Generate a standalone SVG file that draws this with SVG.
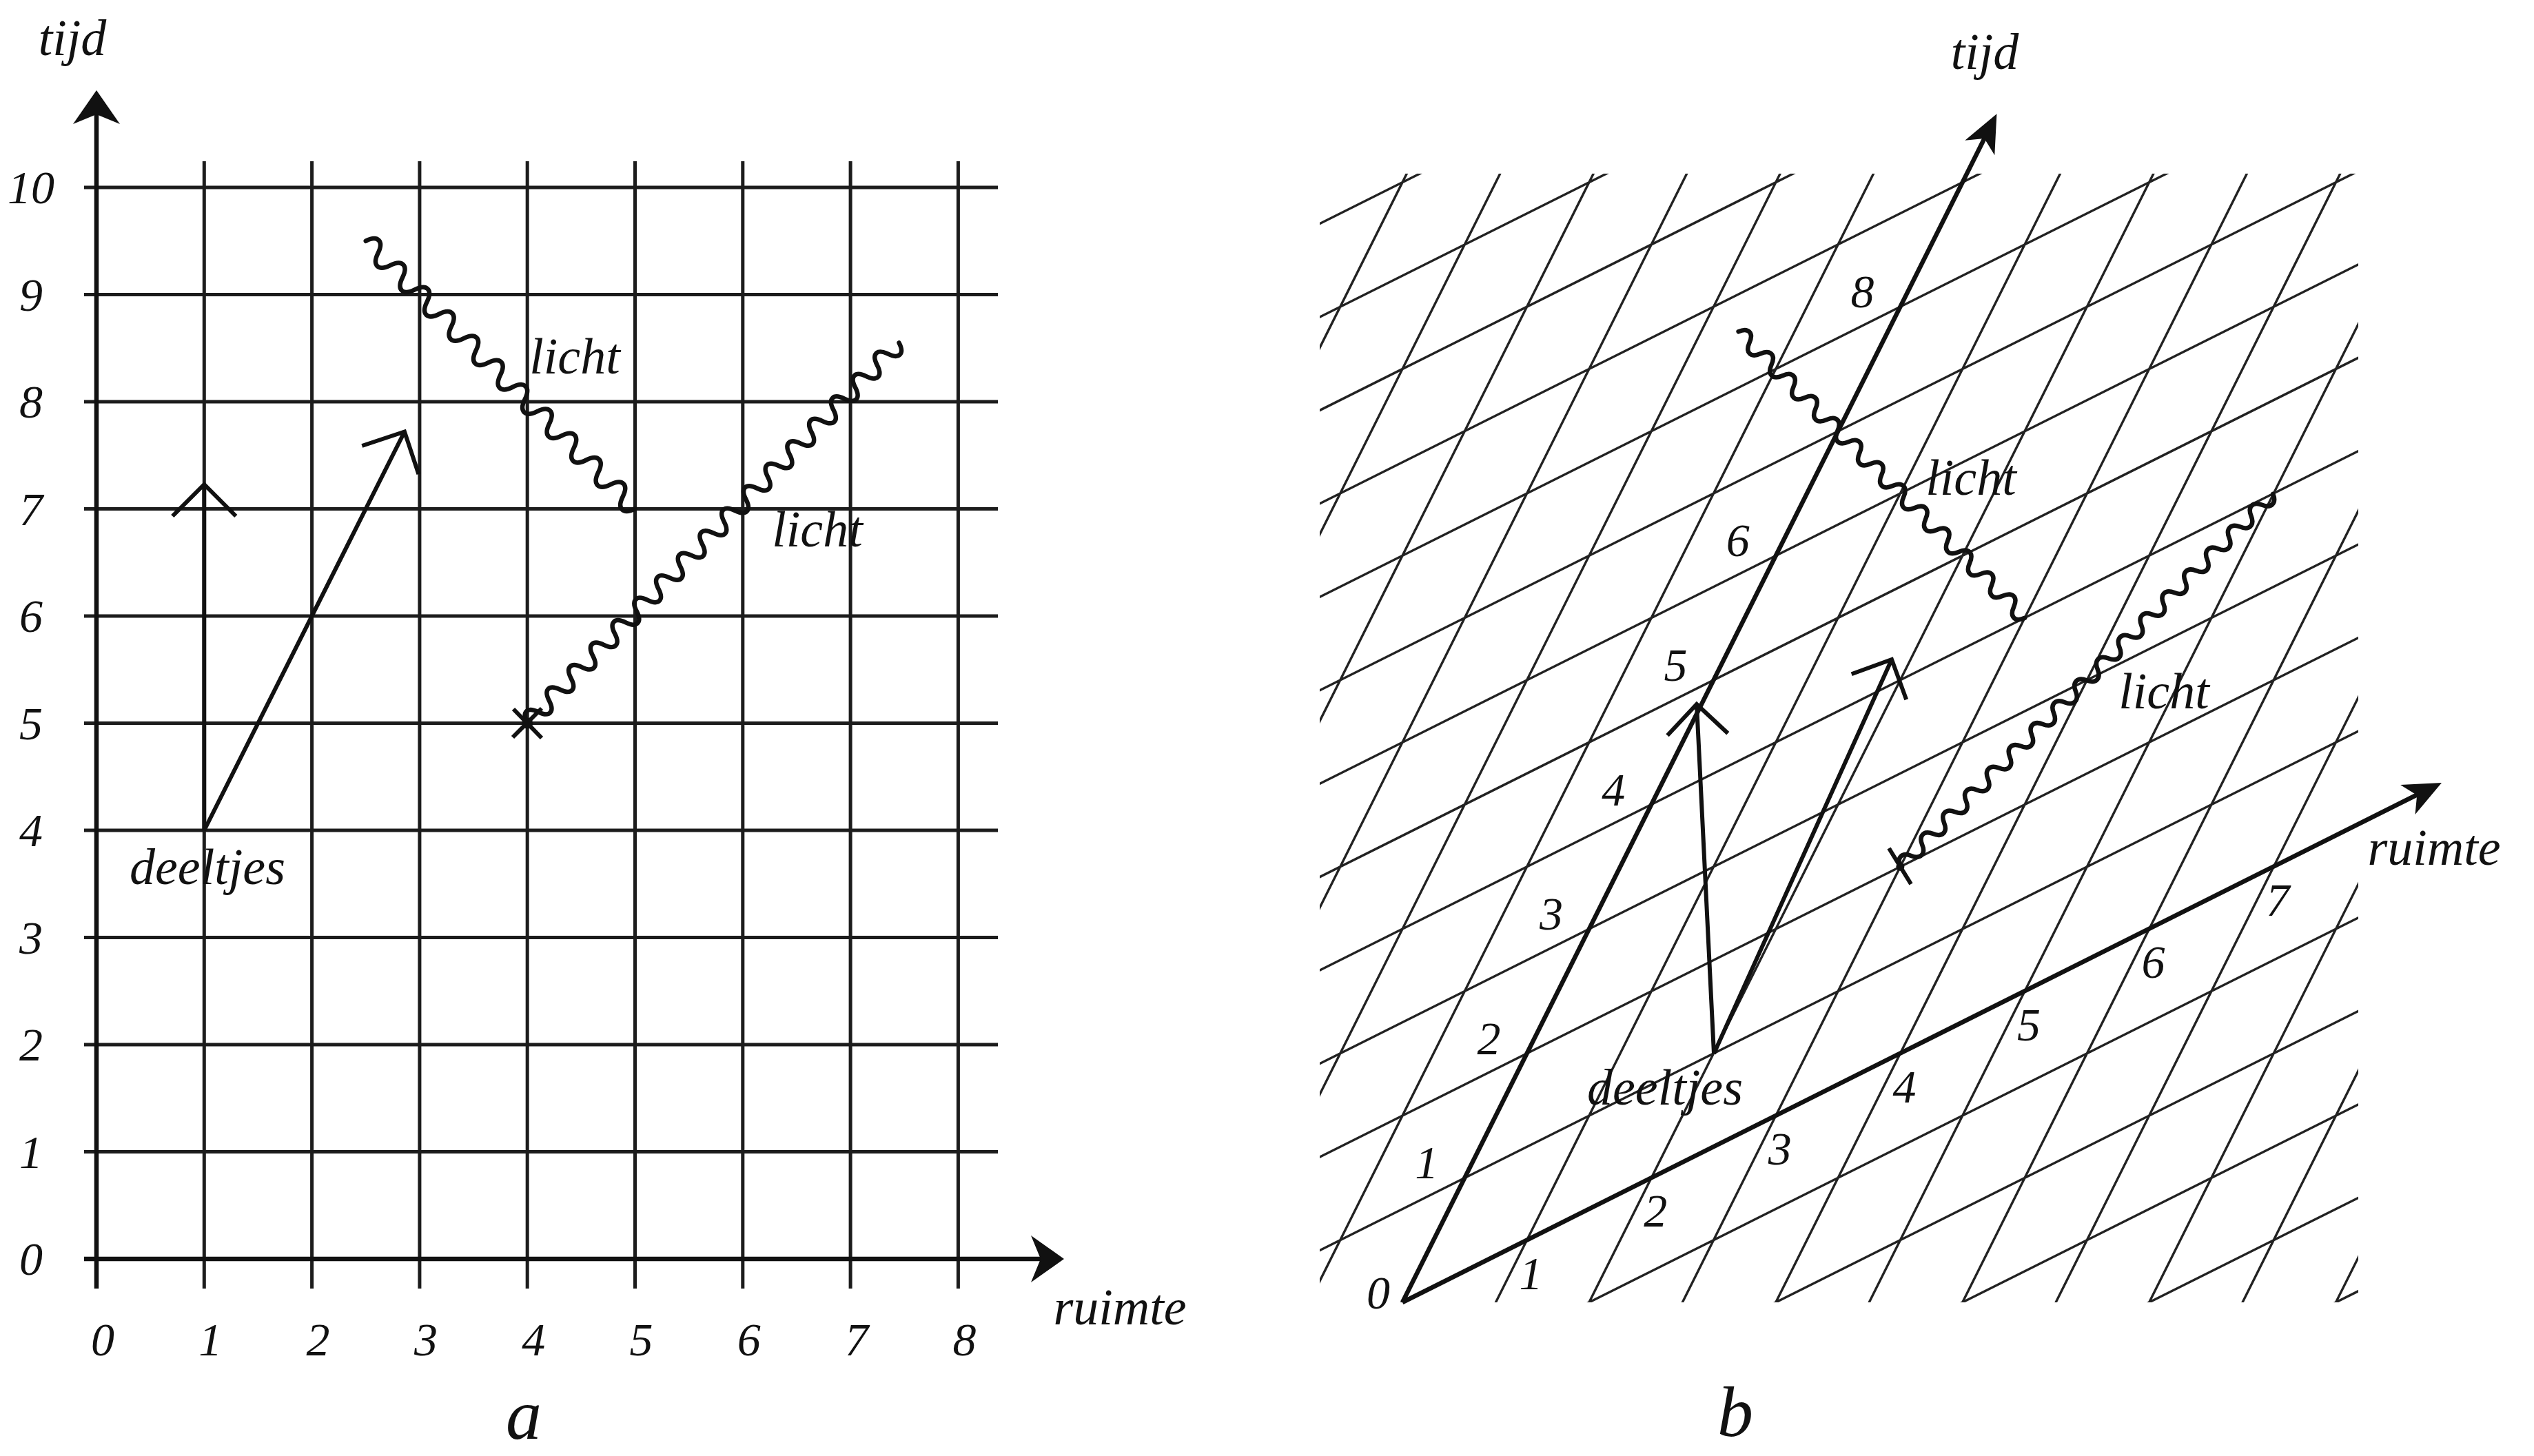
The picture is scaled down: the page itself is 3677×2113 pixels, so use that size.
<svg xmlns="http://www.w3.org/2000/svg" width="3677" height="2113" viewBox="0 0 3677 2113">
<defs>
<style>
.lbl{font-family:"Liberation Serif","DejaVu Serif",serif;font-style:italic;fill:#111}
.num{font-size:68px;text-anchor:middle}
.word{font-size:74px;text-anchor:middle}
.big{font-size:104px;text-anchor:middle}
.grid{fill:none;stroke:#1c1c1c;stroke-width:5}
.axis{fill:none;stroke:#111;stroke-width:6.5}
.wl{fill:none;stroke:#111;stroke-width:6;stroke-linejoin:miter}
.wave{fill:none;stroke:#111;stroke-width:6.5;stroke-linecap:round}
.head{fill:#111}
.bgrid{fill:none;stroke:#222;stroke-width:3.4}
</style>
<clipPath id="bclip"><rect x="1915" y="252" width="1507" height="1638"/></clipPath>
</defs>
<rect width="3677" height="2113" fill="#fff"/>

<g id="diagram-a">
  <g id="a-grid">
    <path class="grid" d="M296.3 234V1870M452.6 234V1870M608.9 234V1870M765.2 234V1870M921.5 234V1870M1077.8 234V1870M1234.1 234V1870M1390.4 234V1870
    M122 1671.5H1448M122 1516H1448M122 1360.5H1448M122 1205H1448M122 1049.5H1448M122 894H1448M122 738.5H1448M122 583H1448M122 427.5H1448M122 272H1448"/>
  </g>
  <g id="a-axes">
    <path class="axis" d="M140 1870V166M122 1827H1512"/>
    <path class="head" d="M140 131L174 180L140 166L106 180Z"/>
    <path class="head" d="M1544 1827L1496 1861L1510 1827L1496 1793Z"/>
  </g>
  <g id="a-labels" class="lbl">
    <text class="word" x="105" y="80">tijd</text>
    <text class="word" x="1625" y="1922">ruimte</text>
    <g class="num">
      <text x="45" y="295">10</text><text x="45" y="450.5">9</text><text x="45" y="606">8</text><text x="45" y="761.5">7</text><text x="45" y="917">6</text><text x="45" y="1072.5">5</text><text x="45" y="1228">4</text><text x="45" y="1383.5">3</text><text x="45" y="1539">2</text><text x="45" y="1694.5">1</text><text x="45" y="1850">0</text>
      <text x="149" y="1967">0</text><text x="305.3" y="1967">1</text><text x="461.6" y="1967">2</text><text x="617.9" y="1967">3</text><text x="774.2" y="1967">4</text><text x="930.5" y="1967">5</text><text x="1086.8" y="1967">6</text><text x="1243.1" y="1967">7</text><text x="1399.4" y="1967">8</text>
    </g>
    <text class="word" x="301" y="1283">deeltjes</text>
    <text class="word" x="834" y="542">licht</text>
    <text class="word" x="1186" y="793">licht</text>
    <text class="big" x="760" y="2088">a</text>
  </g>
  <g id="a-particles">
    <path class="wl" d="M296.3 1205V703M250.3 749L296.3 703L342.3 749"/>
    <path class="wl" d="M296.3 1205L587 626.5M525.3 647L587 626.5L607.4 688"/>
  </g>
  <g id="a-light">
    <path class="wave" transform="translate(530.75 349.75) rotate(44.85)" d="M0 0c6.26 -18.7 18.79 -18.7 25.05 0s18.79 18.7 25.05 0s18.79 -18.7 25.05 0s18.79 18.7 25.05 0s18.79 -18.7 25.05 0s18.79 18.7 25.05 0s18.79 -18.7 25.05 0s18.79 18.7 25.05 0s18.79 -18.7 25.05 0s18.79 18.7 25.05 0s18.79 -18.7 25.05 0s18.79 18.7 25.05 0s18.79 -18.7 25.05 0s18.79 18.7 25.05 0s18.79 -18.7 25.05 0s18.79 18.7 25.05 0s18.79 -18.7 25.05 0s18.79 18.7 25.05 0s18.79 -18.7 25.05 0s18.79 18.7 25.05 0s18.79 -18.7 25.05 0s18.79 18.7 25.05 0"/>
    <path class="wave" transform="translate(765.2 1049.5) rotate(-45.67)" d="M0 0c5.68 -17.3 17.02 -17.3 22.7 0s17.02 17.3 22.7 0s17.02 -17.3 22.7 0s17.02 17.3 22.7 0s17.02 -17.3 22.7 0s17.02 17.3 22.7 0s17.02 -17.3 22.7 0s17.02 17.3 22.7 0s17.02 -17.3 22.7 0s17.02 17.3 22.7 0s17.02 -17.3 22.7 0s17.02 17.3 22.7 0s17.02 -17.3 22.7 0s17.02 17.3 22.7 0s17.02 -17.3 22.7 0s17.02 17.3 22.7 0s17.02 -17.3 22.7 0s17.02 17.3 22.7 0s17.02 -17.3 22.7 0s17.02 17.3 22.7 0s17.02 -17.3 22.7 0s17.02 17.3 22.7 0s17.02 -17.3 22.7 0s17.02 17.3 22.7 0s17.02 -17.3 22.7 0s17.02 17.3 22.7 0s17.02 -17.3 22.7 0s17.02 17.3 22.7 0s17.02 -17.3 22.7 0s17.02 17.3 22.7 0s17.02 -17.3 22.7 0s17.02 17.3 22.7 0s17.02 -17.3 22.7 0s17.02 17.3 22.7 0"/>
    <path class="wl" d="M745 1029L786 1071M744 1070L786 1028"/>
    <circle class="head" cx="765.2" cy="1049.5" r="8"/>
  </g>
</g>

<g id="diagram-b">
  <g id="b-grid" clip-path="url(#bclip)">
    <path class="bgrid" vector-effect="non-scaling-stroke" transform="matrix(180.6 -90.3 90.3 -180.6 2035 1890)" d="M-7 -6V13M-6 -6V13M-5 -6V13M-4 -6V13M-3 -6V13M-2 -6V13M-1 -6V13M0 -6V13M1 -6V13M2 -6V13M3 -6V13M4 -6V13M5 -6V13M6 -6V13M7 -6V13M8 -6V13M9 -6V13M10 -6V13M11 -6V13
    M-8 -6H11M-8 -5H11M-8 -4H11M-8 -3H11M-8 -2H11M-8 -1H11M-8 0H11M-8 1H11M-8 2H11M-8 3H11M-8 4H11M-8 5H11M-8 6H11M-8 7H11M-8 8H11M-8 9H11M-8 10H11M-8 11H11M-8 12H11M-8 13H11"/>
  </g>
  <g id="b-axes">
    <path class="axis" d="M2035 1890L2880 200M2035 1890L3510 1152"/>
    <path class="head" d="M2897.4 165.3L2894.3 225.2L2879.5 201.1L2851.3 203.8Z"/>
    <path class="head" d="M3543 1136L3504.5 1182.1L3507.2 1153.9L3483.1 1139.1Z"/>
  </g>
  <g id="b-labels" class="lbl">
    <text class="word" x="2880" y="100">tijd</text>
    <text class="word" x="3532" y="1255">ruimte</text>
    <g class="num">
      <text x="2000" y="1899">0</text>
      <text x="2070.3" y="1710.4">1</text><text x="2160.6" y="1529.8">2</text><text x="2250.9" y="1349.2">3</text><text x="2341.2" y="1168.6">4</text><text x="2431.5" y="988">5</text><text x="2521.8" y="807.4">6</text><text x="2702.4" y="446.2">8</text>
      <text x="2221.6" y="1870.7">1</text><text x="2402.2" y="1780.4">2</text><text x="2582.8" y="1690.1">3</text><text x="2763.4" y="1599.8">4</text><text x="2944" y="1509.5">5</text><text x="3124.6" y="1419.2">6</text><text x="3305.2" y="1328.9">7</text>
    </g>
    <text class="word" x="2416" y="1603">deeltjes</text>
    <text class="word" x="2860" y="718">licht</text>
    <text class="word" x="3140" y="1028">licht</text>
    <text class="big" x="2518" y="2084">b</text>
  </g>
  <g id="b-particles">
    <path class="wl" stroke-width="5" d="M2487 1529L2462 1022M2419.5 1067.3L2462 1022L2507.3 1064.3"/>
    <path class="wl" stroke-width="5" d="M2487 1529L2745 957M2686.7 978.2L2745 957L2766.2 1015.3"/>
  </g>
  <g id="b-light">
    <path class="wave" stroke-width="5.5" transform="translate(2522.6 481.3) rotate(45)" d="M0 0c5.65 -14.7 16.95 -14.7 22.6 0s16.95 14.7 22.6 0s16.95 -14.7 22.6 0s16.95 14.7 22.6 0s16.95 -14.7 22.6 0s16.95 14.7 22.6 0s16.95 -14.7 22.6 0s16.95 14.7 22.6 0s16.95 -14.7 22.6 0s16.95 14.7 22.6 0s16.95 -14.7 22.6 0s16.95 14.7 22.6 0s16.95 -14.7 22.6 0s16.95 14.7 22.6 0s16.95 -14.7 22.6 0s16.95 14.7 22.6 0s16.95 -14.7 22.6 0s16.95 14.7 22.6 0s16.95 -14.7 22.6 0s16.95 14.7 22.6 0s16.95 -14.7 22.6 0s16.95 14.7 22.6 0s16.95 -14.7 22.6 0s16.95 14.7 22.6 0s16.95 -14.7 22.6 0s16.95 14.7 22.6 0"/>
    <path class="wave" stroke-width="4.5" transform="translate(2757.4 1257.8) rotate(-45)" d="M0 0c5.6 -13.3 16.9 -13.3 22.5 0s16.9 13.3 22.5 0s16.9 -13.3 22.5 0s16.9 13.3 22.5 0s16.9 -13.3 22.5 0s16.9 13.3 22.5 0s16.9 -13.3 22.5 0s16.9 13.3 22.5 0s16.9 -13.3 22.5 0s16.9 13.3 22.5 0s16.9 -13.3 22.5 0s16.9 13.3 22.5 0s16.9 -13.3 22.5 0s16.9 13.3 22.5 0s16.9 -13.3 22.5 0s16.9 13.3 22.5 0s16.9 -13.3 22.5 0s16.9 13.3 22.5 0s16.9 -13.3 22.5 0s16.9 13.3 22.5 0s16.9 -13.3 22.5 0s16.9 13.3 22.5 0s16.9 -13.3 22.5 0s16.9 13.3 22.5 0s16.9 -13.3 22.5 0s16.9 13.3 22.5 0s16.9 -13.3 22.5 0s16.9 13.3 22.5 0s16.9 -13.3 22.5 0s16.9 13.3 22.5 0s16.9 -13.3 22.5 0s16.9 13.3 22.5 0s16.9 -13.3 22.5 0s16.9 13.3 22.5 0"/>
    <path class="wl" stroke-width="5" d="M2741 1231L2773 1283"/>
    <circle class="head" cx="2757.4" cy="1257.8" r="6"/>
  </g>
</g>
</svg>
